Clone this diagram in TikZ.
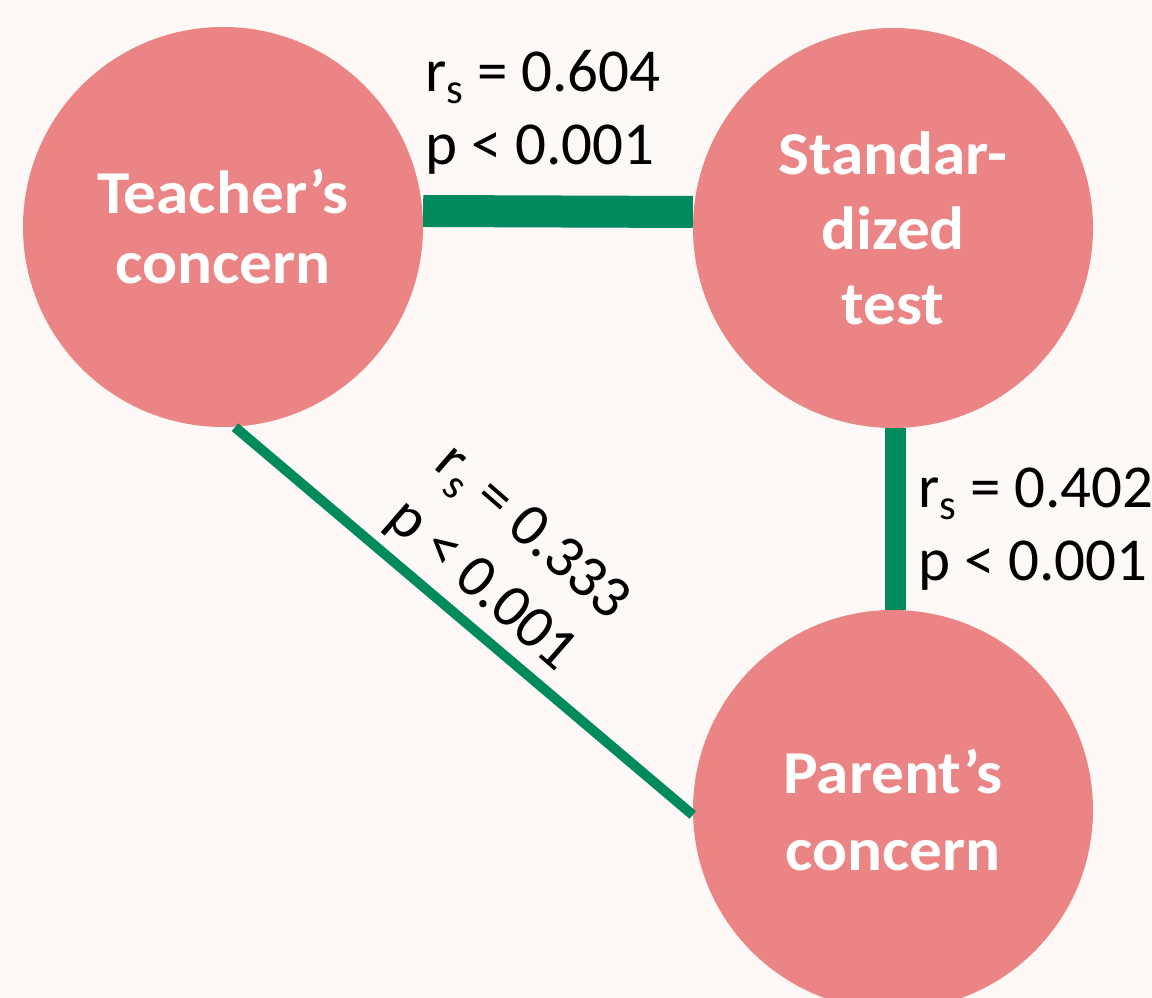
\documentclass[tikz,border=0pt]{standalone}
\usepackage{fontspec}
\setmainfont{Carlito}
\newfontfamily\widefont{Carlito}[FakeStretch=1.07]
\definecolor{bg}{HTML}{FEF9F7}
\definecolor{pinkfill}{HTML}{EB8585}
\definecolor{edgegreen}{HTML}{008A5E}
\tikzset{
  varnode/.style={circle, fill=pinkfill, draw=none, minimum size=400pt, inner sep=0pt,
    text=white, font=\widefont\fontsize{61}{70}\selectfont\bfseries, align=center},
  corr/.style={draw=edgegreen, line cap=butt},
  stat/.style={font=\fontsize{61}{73}\selectfont, align=left, inner sep=0pt, text=black}
}
\begin{document}
\begin{tikzpicture}[x=1pt,y=1pt]
\useasboundingbox (0,0) rectangle (1152,998);
\fill[bg] (0,0) rectangle (1152,998);
\clip (0,0) rectangle (1152,998);
\node[varnode] (T) at (223,771) {Teacher’s\\concern};
\node[varnode, font=\widefont\fontsize{61}{75}\selectfont\bfseries] (S) at (893,770) {Standar-\\dized\\test};
\node[varnode, font=\widefont\fontsize{61}{77}\selectfont\bfseries] (P) at (893,188) {Parent’s\\concern};
\draw[corr, line width=32pt] ([yshift=16pt]T.east) -- ([yshift=16pt]S.west);
\draw[corr, line width=21pt] ([xshift=2pt]S.south) -- ([xshift=2pt]P.north);
\draw[corr, line width=10pt] ([xshift=12pt]T.south) -- ([yshift=-5pt]P.west);
\node[stat, anchor=west] (l1) at (425,886) {r\textsubscript{s} = 0.604\\p < 0.001};
\node[stat, anchor=west] (l2) at (918,469) {r\textsubscript{s} = 0.402\\p < 0.001};
\node[stat, rotate=-41] (l3) at (507,437) {r\textsubscript{s} = 0.333\\p < 0.001};
\end{tikzpicture}
\end{document}
